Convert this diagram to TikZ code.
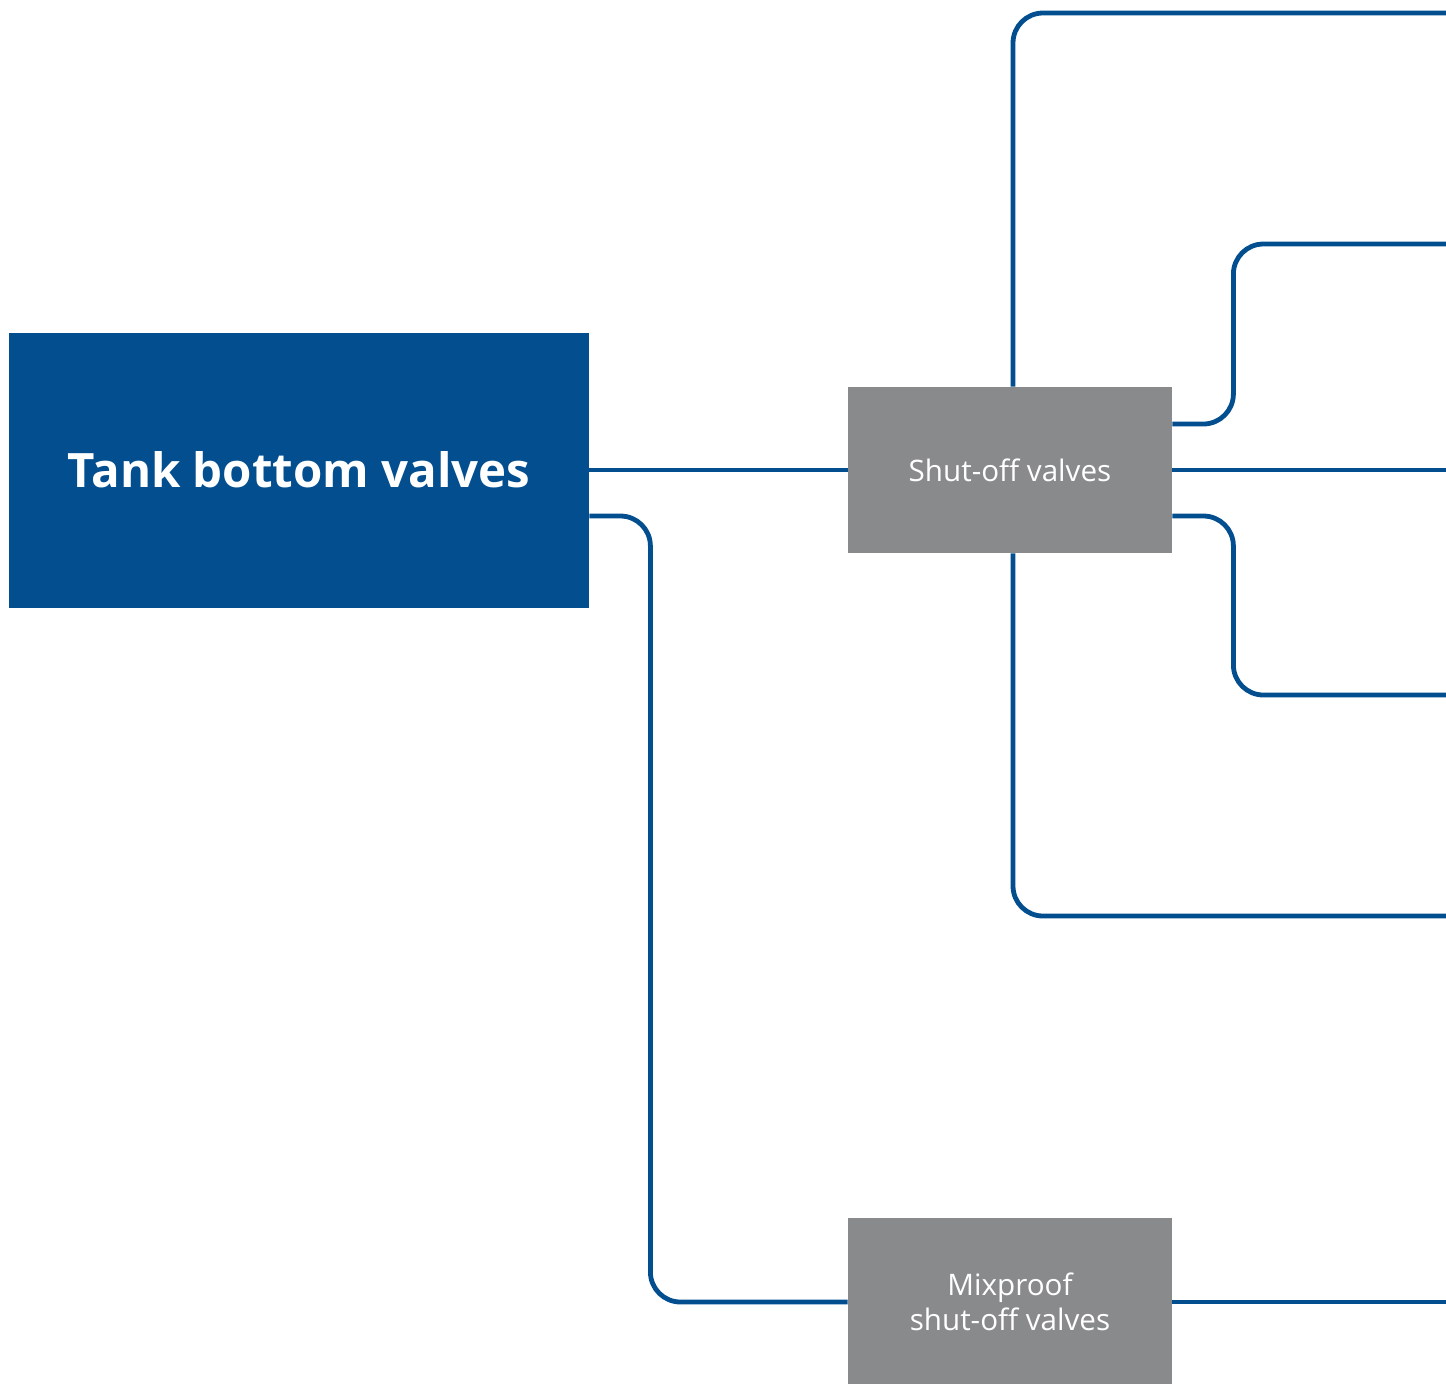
\documentclass[tikz,border=0pt]{standalone}
\usepackage{fontspec}
\setmainfont{Open Sans}
\usepackage{xcolor}
\usepackage{tikz}
\usetikzlibrary{positioning,calc}
\definecolor{valveblue}{RGB}{2,78,143}
\definecolor{valvegray}{RGB}{137,138,140}
\tikzset{
  root/.style={fill=valveblue, text=white, align=center, inner sep=0pt, font=\fontsize{23.7}{28}\selectfont\bfseries, minimum width=290pt, minimum height=137.5pt},
  grp/.style={fill=valvegray, text=white, align=center, inner sep=0pt, font=\fontsize{14.8}{17.5}\selectfont, minimum width=162pt, minimum height=83pt},
  link/.style={draw=valveblue, line width=2.4pt, rounded corners=15pt},
}
\begin{document}
\begin{tikzpicture}[x=0.5pt, y=-0.5pt]
  \useasboundingbox (0,0) rectangle (1446,1383);
  \node[root] (tank) at (299,470) {Tank bottom valves};
  \node[grp] (shut) at (1010,470) {Shut-off valves};
  \node[grp, minimum height=84pt] (mix) at (1010,1302) {Mixproof\\shut-off valves};
  % open ends on the right border
  \coordinate (e1) at (1446,13);
  \coordinate (e2) at (1446,244);
  \coordinate (e3) at (1446,470);
  \coordinate (e4) at (1446,695);
  \coordinate (e5) at (1446,916);
  \coordinate (e6) at (1446,1302);
  \draw[link] (tank.east) -- (shut.west);
  \draw[link] ([yshift=-23pt]tank.east) -- ++(61,0) |- (mix.west);
  \draw[link] ([xshift=1.5pt]shut.north) |- (e1);
  \draw[link] ([yshift=23pt]shut.east) -- ++(61,0) |- (e2);
  \draw[link] (shut.east) -- (e3);
  \draw[link] ([yshift=-23pt]shut.east) -- ++(61,0) |- (e4);
  \draw[link] ([xshift=1.5pt]shut.south) |- (e5);
  \draw[link] (mix.east) -- (e6);
\end{tikzpicture}
\end{document}
